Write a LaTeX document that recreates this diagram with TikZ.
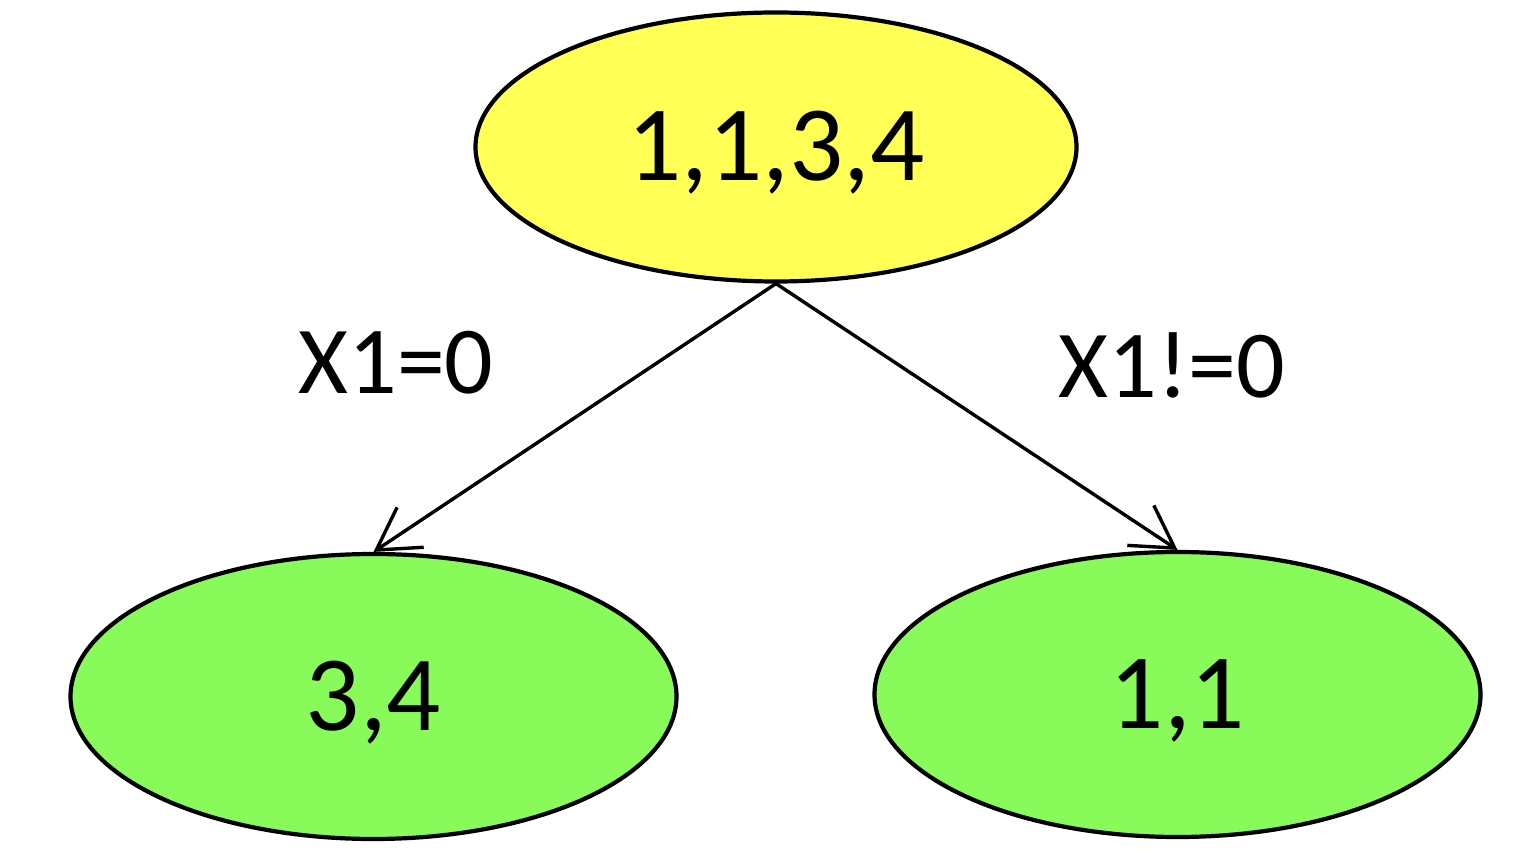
\documentclass[tikz,border=0pt]{standalone}
\usepackage{fontspec}
\setmainfont{Carlito}
\usetikzlibrary{shapes.geometric,arrows.meta}
\definecolor{rootfill}{RGB}{255,255,85}
\definecolor{leaffill}{RGB}{136,250,90}
\tikzset{
  setnode/.style={ellipse, draw=black, line width=4.2pt, inner sep=0pt,
    font=\fontsize{107}{112}\selectfont, text height=67pt, text depth=0pt},
  rootnode/.style={setnode, fill=rootfill, minimum width=601pt, minimum height=269pt},
  leafnode/.style={setnode, fill=leaffill, minimum width=606pt, minimum height=285pt},
  branch/.style={line width=3.4pt, -{Straight Barb[length=41pt, width=48pt, line width=3.4pt]}},
  cond/.style={font=\fontsize{96}{100}\selectfont, inner sep=0pt}
}
\begin{document}
\begin{tikzpicture}[x=1pt, y=1pt]
  \useasboundingbox (0,0) rectangle (1520,860);
  % the split node and its two children
  \node[rootnode] (root) at (776,713) {1,1,3,4};
  \node[leafnode] (left) at (373.5,163.5) {3,4};
  \node[leafnode] (right) at (1177.5,165.5) {1,1};
  % branches with their conditions
  \draw[branch] (root.south) -- (left.north);
  \draw[branch] (root.south) -- (right.north);
  \node[cond] (lcond) at (396,497) {X1=0};
  \node[cond] (rcond) at (1172,495) {X1!=0};
\end{tikzpicture}
\end{document}
